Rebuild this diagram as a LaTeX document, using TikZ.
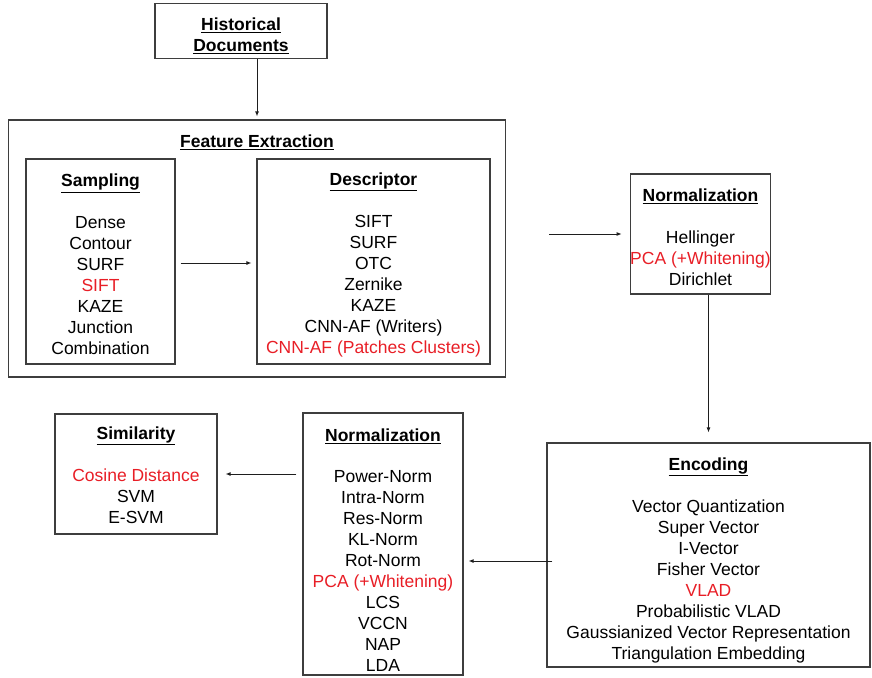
\documentclass[tikz,border=0pt]{standalone}
\usepackage{fontspec}
\setmainfont{Liberation Sans}
\usetikzlibrary{arrows.meta,positioning,calc}
\definecolor{pipered}{RGB}{232,30,38}
\definecolor{pipedark}{RGB}{62,62,62}
\definecolor{pipearrow}{RGB}{30,30,30}
% title of a box; the optional argument pushes the box text down
\newcommand{\boxtitle}[2][0pt]{\rule{0pt}{\dimexpr 13pt+#1\relax}\underline{\textbf{#2}}}
\newcommand{\redtext}[1]{\textcolor{pipered}{#1}}
\tikzset{
  pipe box/.style={
    draw=pipedark,
    line width=1.2pt,
    inner sep=0pt,
    align=center,
    font=\fontsize{17.5}{21}\selectfont,
  },
  pipe arrow/.style={
    -{Latex[length=5pt,width=4pt]},
    line width=0.9pt,
    draw=pipearrow,
  },
}

\begin{document}
\begin{tikzpicture}[x=1pt,y=-1pt]
  \useasboundingbox (0,0) rectangle (872,677);
  % top source
  \node[pipe box, minimum width=172pt, minimum height=55pt] (hist) at (241,31)
    {\boxtitle[10pt]{Historical}\\\underline{\textbf{Documents}}};
  % feature extraction block
  \node[pipe box, minimum width=497pt, minimum height=257pt] (fe) at (257,248.5) {};
  \node[font=\fontsize{17.5}{21}\selectfont, inner sep=0pt] (fetitle) at (257,142) {\underline{\textbf{Feature Extraction}}};
  \node[pipe box, minimum width=149pt, minimum height=205pt] (samp) at (100.5,261.5)
    {\boxtitle[6pt]{Sampling}\\[21pt]Dense\\Contour\\SURF\\\redtext{SIFT}\\KAZE\\Junction\\Combination};
  \node[pipe box, minimum width=233pt, minimum height=205pt] (desc) at (373.5,261.5)
    {\boxtitle[6pt]{Descriptor}\\[21pt]SIFT\\SURF\\OTC\\Zernike\\KAZE\\CNN-AF (Writers)\\\redtext{CNN-AF (Patches Clusters)}};
  % right column
  \node[pipe box, minimum width=137pt, minimum height=120pt] (norma) at (700.5,234)
    {\boxtitle[6pt]{Normalization}\\[21pt]Hellinger\\\redtext{PCA (+Whitening)}\\Dirichlet};
  \node[pipe box, minimum width=323pt, minimum height=224pt] (enc) at (708.5,555)
    {\boxtitle[10pt]{Encoding}\\[21pt]Vector Quantization\\Super Vector\\I-Vector\\Fisher Vector\\\redtext{VLAD}\\Probabilistic VLAD\\Gaussianized Vector Representation\\Triangulation Embedding};
  % bottom row
  \node[pipe box, minimum width=160pt, minimum height=262pt] (normb) at (383,544)
    {\boxtitle[12pt]{Normalization}\\[20.6pt]Power-Norm\\Intra-Norm\\Res-Norm\\KL-Norm\\Rot-Norm\\\redtext{PCA (+Whitening)}\\LCS\\VCCN\\NAP\\LDA};
  \node[pipe box, minimum width=162pt, minimum height=120pt] (sim) at (136,474)
    {\boxtitle[2pt]{Similarity}\\[21pt]\redtext{Cosine Distance}\\SVM\\E-SVM};

  \draw[pipe arrow, shorten >=3pt] (hist.south -| fe.north) -- (fe.north);
  \draw[pipe arrow, shorten <=5pt, shorten >=5pt] (samp.east |- 0,263) -- (desc.west |- 0,263);
  \draw[pipe arrow, shorten <=43pt, shorten >=8pt] (fe.east |- norma.west) -- (norma.west);
  \draw[pipe arrow, shorten >=10pt] (norma.south -| enc.north) -- (enc.north);
  \draw[pipe arrow, shorten <=-6pt, shorten >=5pt] ([yshift=-6pt]enc.west) -- ([yshift=-6pt]enc.west -| normb.east);
  \draw[pipe arrow, shorten <=6pt, shorten >=8pt] (normb.west |- sim.east) -- (sim.east);
\end{tikzpicture}
\end{document}
